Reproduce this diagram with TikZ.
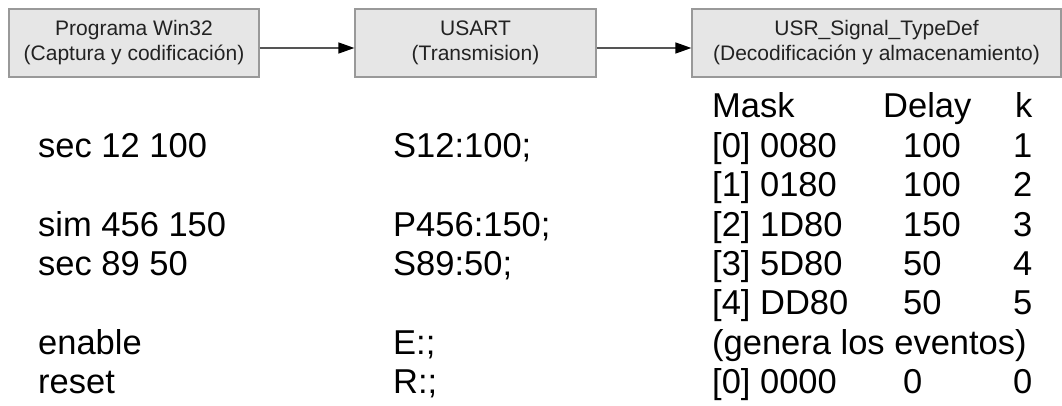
\documentclass[tikz,border=0pt]{standalone}
\usepackage{fontspec}
\setmainfont{Liberation Sans}
\usetikzlibrary{arrows.meta}
\definecolor{boxfill}{HTML}{E6E6E6}
\definecolor{boxline}{HTML}{999999}
\definecolor{wire}{HTML}{555555}
\definecolor{boxtext}{HTML}{222222}
\tikzset{
  stage/.style={draw=boxline, fill=boxfill, line width=1.3pt, align=center,
    minimum height=68pt, inner sep=0pt, text=boxtext,
    font=\fontsize{21}{25}\selectfont},
  flow/.style={draw=wire, line width=1.5pt,
    -{Triangle[length=16pt,width=11pt,color=black]}},
  cell/.style={anchor=base west, inner sep=0pt, font=\fontsize{34.5}{40}\selectfont}
}
\begin{document}
\begin{tikzpicture}[x=1pt,y=-1pt]
\useasboundingbox (0,0) rectangle (1062,406);

% processing stages
\node[stage, minimum width=250pt] (win) at (134,43) {Programa Win32\\(Captura y codificación)};
\node[stage, minimum width=241pt] (usart) at (475.5,43) {USART\\(Transmision)};
\node[stage, minimum width=369pt] (usr) at (876.5,43) {USR\_Signal\_TypeDef\\(Decodificación y almacenamiento)};

\draw[flow] ([yshift=-5pt]win.east) -- ([yshift=-5pt]usart.west);
\draw[flow] ([yshift=-5pt]usart.east) -- ([yshift=-5pt]usr.west);

% commands typed in the Win32 program
\node[cell] (c1) at (38,157.3) {sec 12 100};
\node[cell] (c2) at (38,236) {sim 456 150};
\node[cell] (c3) at (38,275.3) {sec 89 50};
\node[cell] (c4) at (38,354) {enable};
\node[cell] (c5) at (38,393.3) {reset};

% frames sent over the USART
\node[cell] (f1) at (393,157.3) {S12:100;};
\node[cell] (f2) at (393,236) {P456:150;};
\node[cell] (f3) at (393,275.3) {S89:50;};
\node[cell] (f4) at (393,354) {E:;};
\node[cell] (f5) at (393,393.3) {R:;};

% signal table kept by the receiver
\node[cell] (hm) at (712,118) {Mask};
\node[cell] (hd) at (883,118) {Delay};
\node[cell] (hk) at (1015,118) {k};

\node[cell] (m0) at (712,157.3) {[0] 0080};
\node[cell] (d0) at (903,157.3) {100};
\node[cell] (k0) at (1013,157.3) {1};

\node[cell] (m1) at (712,196.6) {[1] 0180};
\node[cell] (d1) at (903,196.6) {100};
\node[cell] (k1) at (1013,196.6) {2};

\node[cell] (m2) at (712,236) {[2] 1D80};
\node[cell] (d2) at (903,236) {150};
\node[cell] (k2) at (1013,236) {3};

\node[cell] (m3) at (712,275.3) {[3] 5D80};
\node[cell] (d3) at (903,275.3) {50};
\node[cell] (k3) at (1013,275.3) {4};

\node[cell] (m4) at (712,314.6) {[4] DD80};
\node[cell] (d4) at (903,314.6) {50};
\node[cell] (k4) at (1013,314.6) {5};

\node[cell] (ev) at (712,354) {(genera los eventos)};

\node[cell] (m5) at (712,393.3) {[0] 0000};
\node[cell] (d5) at (903,393.3) {0};
\node[cell] (k5) at (1013,393.3) {0};
\end{tikzpicture}
\end{document}
